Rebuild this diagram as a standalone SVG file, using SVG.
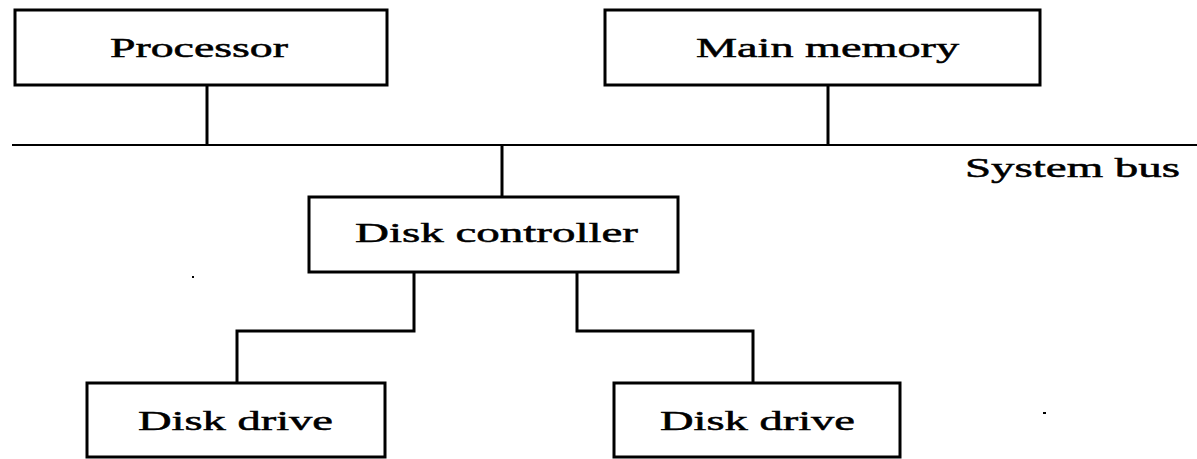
<svg xmlns="http://www.w3.org/2000/svg" width="1197" height="459" viewBox="0 0 1197 459">
<style>
.box{fill:#fff;stroke:#000;stroke-width:3}
.ln{fill:none;stroke:#000;stroke-width:3}
.bus{fill:none;stroke:#000;stroke-width:2.2}
.t{font-family:"Liberation Serif","Times New Roman",serif;font-size:27px;fill:#000;stroke:#000;stroke-width:0.5}
</style>
<rect width="1197" height="459" fill="#fff"/>
<g id="connectors">
<line class="bus" x1="12" y1="145" x2="1197" y2="145"/>
<line class="ln" x1="207" y1="85" x2="207" y2="145"/>
<line class="ln" x1="828" y1="85" x2="828" y2="145"/>
<line class="ln" x1="502" y1="145" x2="502" y2="197"/>
<polyline class="ln" points="414,272 414,331 237,331 237,383"/>
<polyline class="ln" points="577,272 577,331 753,331 753,383"/>
</g>
<g id="processor">
<rect class="box" x="15" y="10" width="372" height="75"/>
<text class="t" x="110" y="57" textLength="178" lengthAdjust="spacingAndGlyphs">Processor</text>
</g>
<g id="main-memory">
<rect class="box" x="605" y="10" width="435" height="75"/>
<text class="t" x="696" y="57" textLength="263" lengthAdjust="spacingAndGlyphs">Main memory</text>
</g>
<g id="system-bus-label">
<text class="t" x="965" y="177" textLength="215" lengthAdjust="spacingAndGlyphs">System bus</text>
</g>
<g id="disk-controller">
<rect class="box" x="309" y="197" width="369" height="75"/>
<text class="t" x="355" y="242" textLength="283" lengthAdjust="spacingAndGlyphs">Disk controller</text>
</g>
<g id="disk-drive-1">
<rect class="box" x="87" y="383" width="298" height="74"/>
<text class="t" x="138" y="430" textLength="195" lengthAdjust="spacingAndGlyphs">Disk drive</text>
</g>
<g id="disk-drive-2">
<rect class="box" x="614" y="383" width="286" height="74"/>
<text class="t" x="660" y="430" textLength="195" lengthAdjust="spacingAndGlyphs">Disk drive</text>
</g>
<rect x="192" y="276" width="2" height="2" fill="#000"/>
<rect x="1043" y="412" width="3" height="2" fill="#000"/>
</svg>
